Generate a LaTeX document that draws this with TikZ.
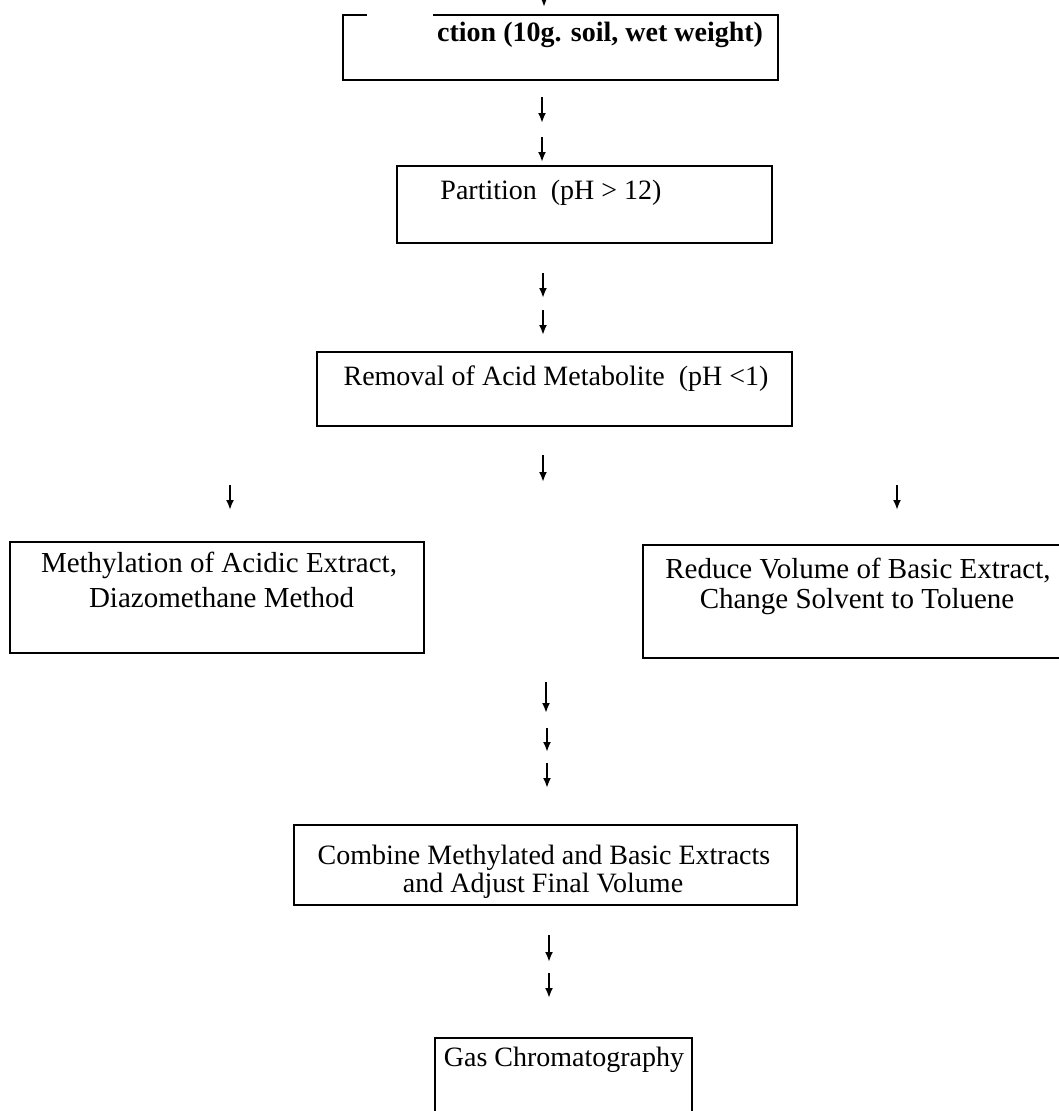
\documentclass[tikz,border=0pt]{standalone}
\usepackage{fontspec}
\setmainfont{Liberation Serif}
\usetikzlibrary{arrows.meta}
\tikzset{
  box/.style={draw, line width=2.2pt, inner sep=0pt, outer sep=0pt},
  lbl/.style={inner sep=0pt, anchor=base, font=\fontsize{28}{33}\selectfont},
  lblb/.style={lbl, font=\fontsize{28}{33}\selectfont\bfseries},
  lblw/.style={lbl, font=\fontsize{29}{34}\selectfont},
  flowarrow/.style={line width=2pt, -{Latex[length=10pt,width=8pt]}},
}
\begin{document}
\begin{tikzpicture}[x=1pt,y=-1pt]
\useasboundingbox[fill=white] (0,0) rectangle (1059,1111);

% top box (top-left part of its upper line is missing)
\coordinate (t1) at (367,15);
\coordinate (t2) at (343,15);
\coordinate (t3) at (343,80);
\coordinate (t4) at (778,80);
\coordinate (t5) at (778,15);
\coordinate (t6) at (433,15);
\draw[line width=2.2pt] (t1) -- (t2) -- (t3) -- (t4) -- (t5) -- (t6);
\node[lblb, anchor=base west] (ttext) at (437,41) {ction (10g. soil, wet weight)};

% boxes
\node[box, minimum width=375pt, minimum height=77pt] (part) at (584.5,204.5) {};
\node[lbl] (parttext) at (551,199) {Partition\ \ (pH > 12)};

\node[box, minimum width=475pt, minimum height=74pt] (remo) at (554.5,389) {};
\node[lbl] (remotext) at (556,385) {Removal of Acid Metabolite\ \ (pH <1)};

\node[box, minimum width=414pt, minimum height=111pt] (meth) at (217,597.5) {};
\node[lblw] (meth1) at (219,572) {Methylation of Acidic Extract,};
\node[lblw] (meth2) at (221.5,607) {Diazomethane Method};

\node[box, minimum width=422pt, minimum height=113pt] (redu) at (854,601.5) {};
\node[lblw] (redu1) at (858,578) {Reduce Volume of Basic Extract,};
\node[lblw] (redu2) at (857,608) {Change Solvent to Toluene};

\node[box, minimum width=503pt, minimum height=80pt] (comb) at (545.5,865) {};
\node[lbl] (comb1) at (544,864) {Combine Methylated and Basic Extracts};
\node[lbl] (comb2) at (543,892) {and Adjust Final Volume};

\node[box, minimum width=257pt, minimum height=92pt] (gc) at (563.5,1084) {};
\node[lbl] (gctext) at (564,1066) {Gas Chromatography};

% arrows
\coordinate (a0s) at (544,-20); \coordinate (a0e) at (544,7);
\coordinate (a1s) at (542,97);  \coordinate (a1e) at (542,123);
\coordinate (a2s) at (542,137); \coordinate (a2e) at (542,162);
\coordinate (a3s) at (543,273); \coordinate (a3e) at (543,298);
\coordinate (a4s) at (543,310); \coordinate (a4e) at (543,335);
\coordinate (a5s) at (543,455); \coordinate (a5e) at (543,482);
\coordinate (aLs) at (230,485); \coordinate (aLe) at (230,510);
\coordinate (aRs) at (897,485); \coordinate (aRe) at (897,510);
\coordinate (b1s) at (546,682); \coordinate (b1e) at (546,713);
\coordinate (b2s) at (547,728); \coordinate (b2e) at (547,752);
\coordinate (b3s) at (547,763); \coordinate (b3e) at (547,788);
\coordinate (c1s) at (549,935); \coordinate (c1e) at (549,962);
\coordinate (c2s) at (549,973); \coordinate (c2e) at (549,998);
\foreach \a in {a0,a1,a2,a3,a4,a5,aL,aR,b1,b2,b3,c1,c2}
  \draw[flowarrow] (\a s) -- (\a e);
\end{tikzpicture}
\end{document}
